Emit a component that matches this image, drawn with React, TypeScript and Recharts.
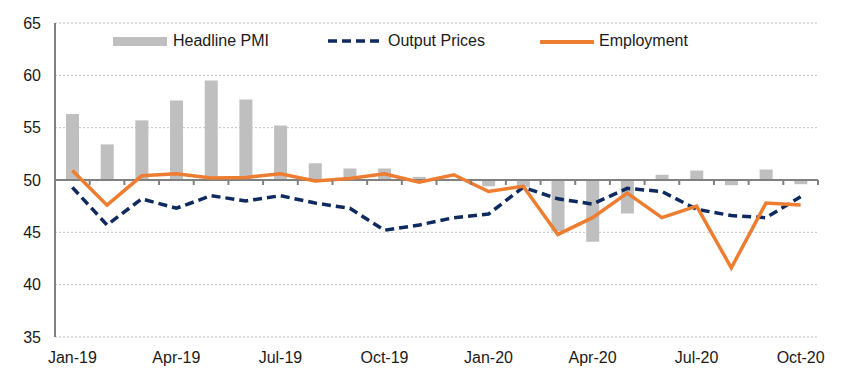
import React from "react";
import {
    ComposedChart,
    Bar,
    Line,
    XAxis,
    YAxis,
    CartesianGrid,
    ReferenceLine,
} from "recharts";

const months = [
    "Jan-19", "Feb-19", "Mar-19", "Apr-19", "May-19", "Jun-19", "Jul-19", "Aug-19",
    "Sep-19", "Oct-19", "Nov-19", "Dec-19", "Jan-20", "Feb-20", "Mar-20", "Apr-20",
    "May-20", "Jun-20", "Jul-20", "Aug-20", "Sep-20", "Oct-20",
];

const headlinePmi = [
    56.3, 53.4, 55.7, 57.6, 59.5, 57.7, 55.2, 51.6, 51.1, 51.1, 50.3, 50.1,
    49.4, 49.3, 45.1, 44.1, 46.8, 50.5, 50.9, 49.5, 51.0, 49.6,
];

const outputPrices = [
    49.3, 45.7, 48.2, 47.3, 48.5, 48.0, 48.5, 47.8, 47.3, 45.2, 45.7, 46.4,
    46.75, 49.3, 48.2, 47.7, 49.2, 48.9, 47.2, 46.6, 46.4, 48.4,
];

const employment = [
    50.9, 47.6, 50.4, 50.6, 50.2, 50.25, 50.6, 49.9, 50.15, 50.6, 49.8, 50.5,
    48.9, 49.4, 44.8, 46.4, 48.75, 46.4, 47.5, 41.6, 47.8, 47.6,
];

const yTicks = [35, 40, 45, 50, 55, 60, 65];

const data = months.map((m, i) => ({
    month: m,
    pmi: [50, headlinePmi[i]],
    prices: outputPrices[i],
    employment: employment[i],
}));

// Abmessungen
const W = 855;
const H = 375;
const M = { top: 23, right: 37, bottom: 8, left: 10 };
const Y_W = 45;
const X_H = 30;
const PLOT_W = W - M.left - Y_W - M.right;
const PLOT_H = H - M.top - M.bottom - X_H;
const BAND = PLOT_W / months.length;
const AXIS_FROM_BOTTOM = (PLOT_H * (50 - 35)) / (65 - 35);

const NAVY = "#0E2A5F";
const ORANGE = "#ED7D31";
const GREY = "#BFBFBF";
const AXIS = "#808080";
const FONT = "'Liberation Sans', Arial, sans-serif";

// Tick: Label unten (jeder 3. Monat), Strich an der 50er-Linie
function XTick(props: any) {
    const { x, y, payload, index } = props;
    const axisY = y - AXIS_FROM_BOTTOM;
    const left = x - BAND / 2;
    return (
        <g>
            <line x1={left} x2={left} y1={axisY} y2={axisY + 5} stroke={AXIS} strokeWidth={2} />
            {index === months.length - 1 && (
                <line x1={x + BAND / 2} x2={x + BAND / 2} y1={axisY} y2={axisY + 5} stroke={AXIS} strokeWidth={2} />
            )}
            {index % 3 === 0 && (
                <text x={x} y={y + 26} textAnchor="middle" fontSize={16} fill="#1a1a1a" fontFamily={FONT}>
                    {payload.value}
                </text>
            )}
        </g>
    );
}

function LegendOverlay() {
    const text: React.CSSProperties = {
        position: "absolute",
        fontFamily: FONT,
        fontSize: 16,
        color: "#1a1a1a",
        top: 31,
        lineHeight: "20px",
        whiteSpace: "nowrap",
    };
    return (
        <>
            <div style={{ position: "absolute", left: 113, top: 37, width: 54, height: 9, background: GREY }} />
            <div style={{ ...text, left: 173 }}>Headline PMI</div>
            <svg style={{ position: "absolute", left: 327, top: 37 }} width={58} height={8}>
                <line x1={1} x2={56} y1={4} y2={4} stroke={NAVY} strokeWidth={3.5} strokeDasharray="9 5" />
            </svg>
            <div style={{ ...text, left: 388 }}>Output Prices</div>
            <div style={{ position: "absolute", left: 540, top: 40, width: 54, height: 3.5, background: ORANGE }} />
            <div style={{ ...text, left: 599 }}>Employment</div>
        </>
    );
}

export default function App() {
    return (
        <div style={{ position: "absolute", left: 0, top: 0, width: W, height: H, background: "#fff" }}>
            <ComposedChart width={W} height={H} data={data} margin={M} barSize={13}>
                <CartesianGrid vertical={false} stroke={GREY} strokeDasharray="2 2" />
                <XAxis
                    dataKey="month"
                    height={X_H}
                    axisLine={false}
                    tickLine={false}
                    tickSize={0}
                    tickMargin={0}
                    interval={0}
                    tick={<XTick />}
                />
                <YAxis
                    width={Y_W}
                    domain={[35, 65]}
                    ticks={yTicks}
                    interval={0}
                    axisLine={{ stroke: AXIS, strokeWidth: 2 }}
                    tickLine={false}
                    tickSize={0}
                    tickMargin={14}
                    tick={{ fontSize: 16, fill: "#1a1a1a", fontFamily: FONT }}
                />
                <Bar dataKey="pmi" fill={GREY} isAnimationActive={false} />
                <ReferenceLine y={50} stroke={AXIS} strokeWidth={2} />
                <Line
                    dataKey="prices"
                    stroke={NAVY}
                    strokeWidth={3.5}
                    strokeDasharray="9 5"
                    dot={false}
                    type="linear"
                    isAnimationActive={false}
                />
                <Line
                    dataKey="employment"
                    stroke={ORANGE}
                    strokeWidth={3.5}
                    dot={false}
                    type="linear"
                    isAnimationActive={false}
                />
            </ComposedChart>
            <LegendOverlay />
        </div>
    );
}
